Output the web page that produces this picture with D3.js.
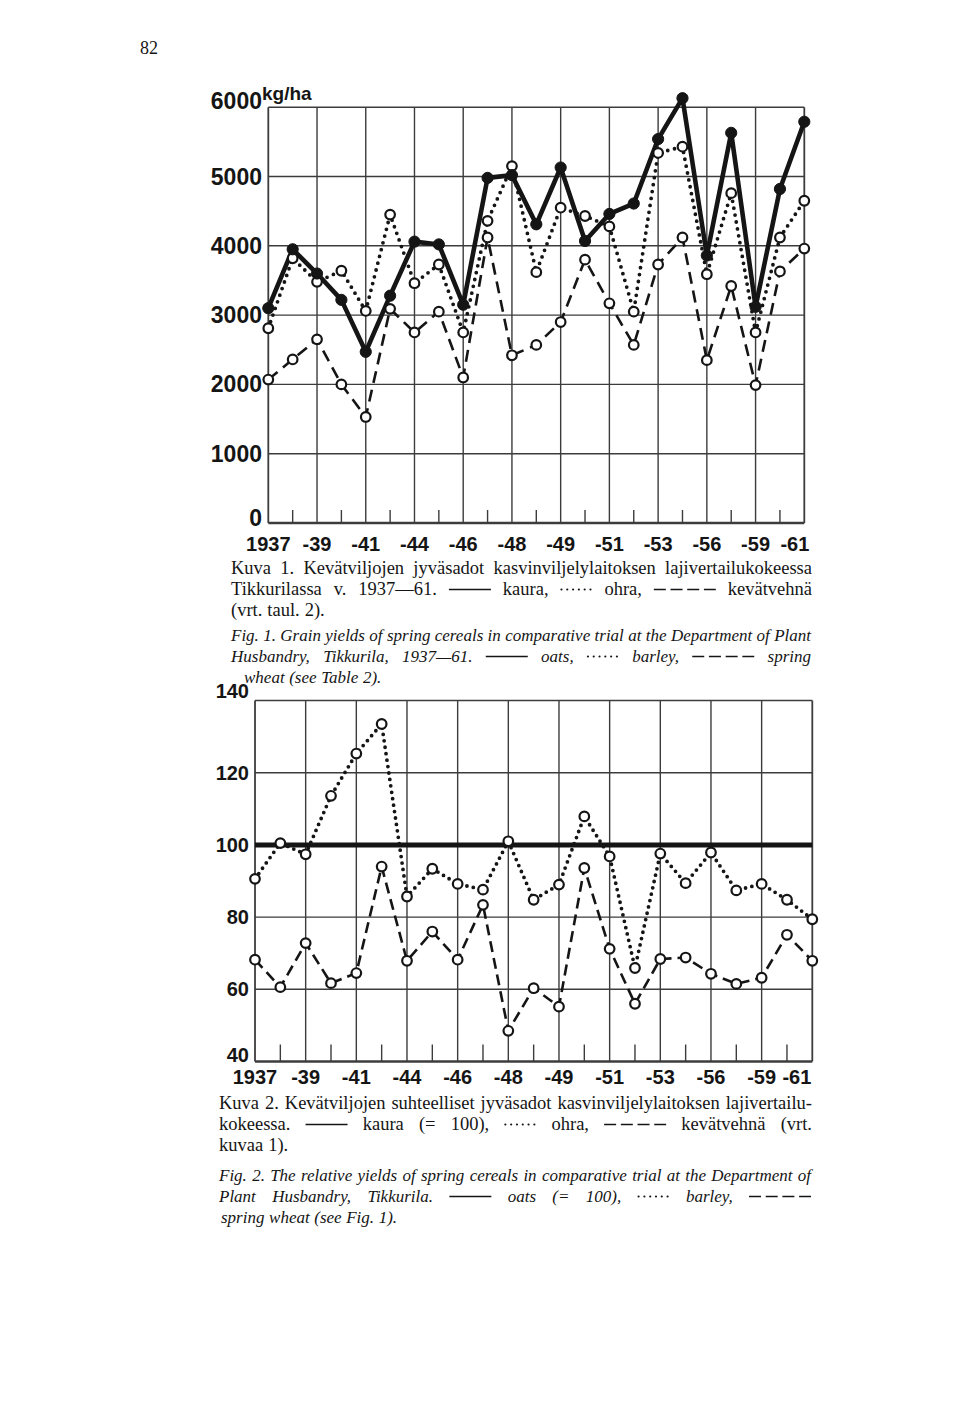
<!DOCTYPE html>
<html>
<head>
<meta charset="utf-8">
<script src="https://cdn.jsdelivr.net/npm/d3@7"></script>
<style>
    body { margin: 0; background: #fff; }
</style>
</head>
<body>
<div id="main"></div>
<script>
// x positions: 23 trial years, labels on every second one
const yearLabels = ["1937", "-39", "-41", "-44", "-46", "-48", "-49", "-51", "-53", "-56", "-59", "-61"];

// Fig. 1, kg/ha
const oats   = [3100, 3950, 3600, 3220, 2470, 3280, 4060, 4020, 3150, 4980, 5020, 4310, 5130, 4070, 4460, 4610, 5540, 6130, 3860, 5630, 3120, 4820, 5790];
const barley = [2810, 3820, 3480, 3640, 3060, 4450, 3460, 3730, 2750, 4360, 5150, 3620, 4550, 4430, 4280, 3050, 5340, 5430, 3590, 4760, 2750, 4120, 4650];
const wheat  = [2070, 2360, 2650, 2000, 1530, 3090, 2750, 3050, 2100, 4120, 2420, 2570, 2900, 3800, 3170, 2570, 3730, 4120, 2350, 3420, 1990, 3630, 3960];
const kgTicks = [0, 1000, 2000, 3000, 4000, 5000, 6000];

// Fig. 2, oats = 100
const oatsRel = 100;
const barleyRel = [90.6, 100.5, 97.4, 113.6, 125.3, 133.5, 85.7, 93.4, 89.2, 87.6, 101, 84.8, 89, 107.9, 96.8, 65.9, 97.6, 89.4, 97.9, 87.4, 89.2, 84.8, 79.4];
const wheatRel  = [68.2, 60.6, 72.8, 61.7, 64.5, 94.0, 67.9, 76, 68.2, 83.4, 48.5, 60.3, 55.2, 93.6, 71.2, 56, 68.4, 68.8, 64.3, 61.5, 63.2, 75.1, 67.9];
const relTicks = [40, 60, 80, 100, 120, 140];

// captions ("S" solid, "D" dotted, "W" dashed legend samples)
const captionKuva1 = [
    { parts: ["Kuva 1. Kevätviljojen jyväsadot kasvinviljelylaitoksen lajivertailukokeessa"], justify: true },
    { parts: ["Tikkurilassa v. 1937—61.", "S", "kaura,", "D", "ohra,", "W", "kevätvehnä"], justify: true },
    { parts: ["(vrt. taul. 2)."] },
];
const captionFig1 = [
    { parts: ["Fig. 1. Grain yields of spring cereals in comparative trial at the Department of Plant"], justify: true },
    { parts: ["Husbandry, Tikkurila, 1937—61.", "S", "oats,", "D", "barley,", "W", "spring"], justify: true },
    { parts: ["wheat (see Table 2)."], indent: 13 },
];
const captionKuva2 = [
    { parts: ["Kuva 2. Kevätviljojen suhteelliset jyväsadot kasvinviljelylaitoksen lajivertailu-"], justify: true },
    { parts: ["kokeessa.", "S", "kaura (= 100),", "D", "ohra,", "W", "kevätvehnä (vrt."], justify: true },
    { parts: ["kuvaa 1)."] },
];
const captionFig2 = [
    { parts: ["Fig. 2. The relative yields of spring cereals in comparative trial at the Department of"], justify: true },
    { parts: ["Plant Husbandry, Tikkurila.", "S", "oats (= 100),", "D", "barley,", "W"], justify: true },
    { parts: ["spring wheat (see Fig. 1)."], indent: 2 },
];

const ctx = {
    svg_w: 960,
    svg_h: 1408,
    ink: "#151515",
    grid: "#3c3c3c",
    serif: "'Liberation Serif', 'DejaVu Serif', serif",
    sans: "'Liberation Sans', Arial, sans-serif",

    // fig 1
    top: {
        x0: 268.3, x1: 804.3, yb: 523, yt: 107.2,
        domain: [0, 6000], ticks: kgTicks,
        labelX: 262, labelSize: 23, labelDy: [3, 8, 2],
        xLabelY: 551, xLabelSize: 20, minorTick: 13, lastLabelX: 5,
        dotGap: 7, dashes: "12 7",
    },
    // fig 2
    bottom: {
        x0: 255, x1: 812.3, yb: 1061.5, yt: 700.5,
        domain: [40, 140], ticks: relTicks,
        labelX: 249, labelSize: 20, labelDy: [0.5, 7, -3],
        xLabelY: 1084, xLabelSize: 20, minorTick: 17, lastLabelX: -1,
        dotGap: 6.5, dashes: "11 6",
    },

    capSize: 18.5,
    capItalicSize: 17,
    sampleW: { S: 42, D: 32, W: 62 },
};


function createViz() {
    let svg = d3.select("#main").append("svg")
        .attr("width", ctx.svg_w)
        .attr("height", ctx.svg_h)
        .style("background", "#fff");

    svg.append("text")
        .attr("x", 140).attr("y", 54)
        .style("font", `18px ${ctx.serif}`)
        .style("fill", ctx.ink)
        .text("82");

    drawTopChart(svg);
    drawBottomChart(svg);

    let cap = svg.append("g").attr("id", "captions");
    drawCaption(cap, captionKuva1, 231, 812, 574, false);
    drawCaption(cap, captionFig1, 231, 811, 641, true);
    drawCaption(cap, captionKuva2, 219, 812, 1109, false);
    drawCaption(cap, captionFig2, 219, 811, 1181, true);
}


function makeFrame(svg, cfg) {
    let g = svg.append("g");
    let x = d3.scaleLinear().domain([0, 22]).range([cfg.x0, cfg.x1]);
    let y = d3.scaleLinear().domain(cfg.domain).range([cfg.yb, cfg.yt]);
    let idx = d3.range(23);

    // horizontal grid
    g.selectAll(".hgrid").data(cfg.ticks).enter().append("line")
        .attr("x1", cfg.x0).attr("x2", cfg.x1)
        .attr("y1", d => y(d)).attr("y2", d => y(d))
        .style("stroke", ctx.grid)
        .style("stroke-width", (d, i) => i == 0 ? 2.4 : 1.4);

    // vertical grid on labelled years, short ticks between
    g.selectAll(".vgrid").data(idx.filter(i => i % 2 == 0)).enter().append("line")
        .attr("x1", d => x(d)).attr("x2", d => x(d))
        .attr("y1", cfg.yb).attr("y2", cfg.yt)
        .style("stroke", ctx.grid)
        .style("stroke-width", (d) => (d == 0 || d == 22) ? 1.8 : 1.4);

    g.selectAll(".minor").data(idx.filter(i => i % 2 == 1)).enter().append("line")
        .attr("x1", d => x(d)).attr("x2", d => x(d))
        .attr("y1", cfg.yb).attr("y2", cfg.yb - cfg.minorTick)
        .style("stroke", ctx.grid)
        .style("stroke-width", 1.4);

    // y labels
    let last = cfg.ticks.length - 1;
    g.selectAll(".ylab").data(cfg.ticks).enter().append("text")
        .attr("x", cfg.labelX)
        .attr("y", (d, i) => y(d) + (i == 0 ? cfg.labelDy[0] : i == last ? cfg.labelDy[2] : cfg.labelDy[1]))
        .attr("text-anchor", "end")
        .style("font", `bold ${cfg.labelSize}px ${ctx.sans}`)
        .style("fill", ctx.ink)
        .text(d => d);

    // x labels, the last one kept inside the frame
    let nl = yearLabels.length - 1;
    g.selectAll(".xlab").data(yearLabels).enter().append("text")
        .attr("x", (d, i) => i == nl ? x(i * 2) + cfg.lastLabelX : x(i * 2))
        .attr("y", cfg.xLabelY)
        .attr("text-anchor", (d, i) => i == nl ? "end" : "middle")
        .style("font", `bold ${cfg.xLabelSize}px ${ctx.sans}`)
        .style("fill", ctx.ink)
        .text(d => d);

    return { g: g, x: x, y: y };
}


function drawSeries(f, values, kind, cfg) {
    let line = d3.line().x((d, i) => f.x(i)).y(d => f.y(d));
    let path = f.g.append("path")
        .datum(values)
        .attr("d", line)
        .style("fill", "none")
        .style("stroke", ctx.ink)
        .style("stroke-linejoin", "round");

    if (kind == "solid") {
        path.style("stroke-width", 4.6);
    } else if (kind == "dotted") {
        path.style("stroke-width", 3.8)
            .style("stroke-linecap", "round")
            .style("stroke-dasharray", `0 ${cfg.dotGap}`);
    } else {
        path.style("stroke-width", 2.6)
            .style("stroke-dasharray", cfg.dashes);
    }
    return values;
}

function drawMarkers(f, values, filled) {
    f.g.append("g").selectAll("circle").data(values).enter().append("circle")
        .attr("cx", (d, i) => f.x(i))
        .attr("cy", d => f.y(d))
        .attr("r", filled ? 5.6 : 4.8)
        .style("fill", filled ? ctx.ink : "#fff")
        .style("stroke", ctx.ink)
        .style("stroke-width", filled ? 1 : 2.2);
}


function drawTopChart(svg) {
    let cfg = ctx.top;
    let f = makeFrame(svg, cfg);

    f.g.append("text")
        .attr("x", 262).attr("y", 100)
        .style("font", `bold 19px ${ctx.sans}`)
        .style("fill", ctx.ink)
        .text("kg/ha");

    drawSeries(f, wheat, "dashed", cfg);
    drawSeries(f, barley, "dotted", cfg);
    drawSeries(f, oats, "solid", cfg);
    drawMarkers(f, wheat, false);
    drawMarkers(f, barley, false);
    drawMarkers(f, oats, true);
}


function drawBottomChart(svg) {
    let cfg = ctx.bottom;
    let f = makeFrame(svg, cfg);

    drawSeries(f, wheatRel, "dashed", cfg);
    drawSeries(f, barleyRel, "dotted", cfg);

    // oats is the reference level
    f.g.append("line")
        .attr("x1", f.x(0)).attr("x2", f.x(22))
        .attr("y1", f.y(oatsRel)).attr("y2", f.y(oatsRel))
        .style("stroke", ctx.ink)
        .style("stroke-width", 5);

    drawMarkers(f, wheatRel, false);
    drawMarkers(f, barleyRel, false);
}


function textWidth(g, str, font) {
    let t = g.append("text").style("font", font).text(str);
    let w = t.node().getComputedTextLength();
    t.remove();
    return w;
}

function drawSample(g, kind, x, w, y) {
    let l = g.append("line")
        .attr("x1", x).attr("x2", x + w)
        .attr("y1", y).attr("y2", y)
        .style("stroke", ctx.ink);
    if (kind == "S") {
        l.style("stroke-width", 1.7);
    } else if (kind == "D") {
        l.attr("x1", x + 1).attr("x2", x + w - 1)
            .style("stroke-width", 2.2)
            .style("stroke-linecap", "round")
            .style("stroke-dasharray", "0 5.8");
    } else {
        l.style("stroke-width", 1.7)
            .style("stroke-dasharray", "12 4.7");
    }
}

function drawCaption(g, lines, x0, x1, y, italic) {
    let size = italic ? ctx.capItalicSize : ctx.capSize;
    let font = `${italic ? "italic " : ""}${size}px ${ctx.serif}`;
    lines.forEach(function (line, li) {
        let tokens = [];
        line.parts.forEach(function (p) {
            if (ctx.sampleW[p] !== undefined) tokens.push({ sample: p, w: ctx.sampleW[p] });
            else p.split(" ").forEach(w => tokens.push({ word: w, w: textWidth(g, w, font) }));
        });
        let start = x0 + (line.indent || 0);
        let sum = d3.sum(tokens, t => t.w);
        let gap = line.justify
            ? Math.max(2, (x1 - start - sum) / (tokens.length - 1))
            : size * 0.27;
        let x = start;
        let yy = y + li * 21;
        tokens.forEach(function (t) {
            if (t.word !== undefined) {
                g.append("text")
                    .attr("x", x).attr("y", yy)
                    .style("font", font)
                    .style("fill", ctx.ink)
                    .text(t.word);
            } else {
                drawSample(g, t.sample, x, t.w, yy - 5.5);
            }
            x += t.w + gap;
        });
    });
}

createViz();
</script>
</body>
</html>
